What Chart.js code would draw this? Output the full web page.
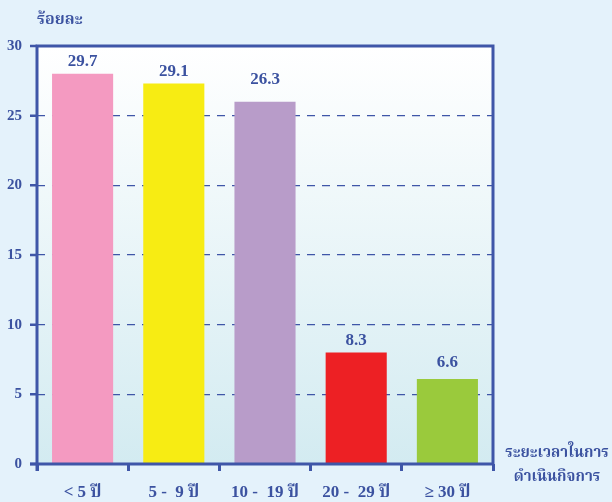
<!DOCTYPE html>
<html>
<head>
<meta charset="utf-8">
<script src="https://cdn.jsdelivr.net/npm/chart.js@4.4.1/dist/chart.umd.min.js"></script>
<style>
  html, body { margin: 0; padding: 0; background: #e4f2fb; }
  #wrap { width: 612px; height: 502px; }
</style>
</head>
<body>
<div id="wrap"><canvas id="c"></canvas></div>
<script>
// ข้อมูลจากภาพ: ความสูงของแท่งตามที่วาด กับตัวเลขที่พิมพ์กำกับ
const categories = ["< 5 ปี", "5 -  9 ปี", "10 -  19 ปี", "20 -  29 ปี", "≥ 30 ปี"]
const barValues = [28.0, 27.3, 26.0, 8.0, 6.1]
const barLabels = ["29.7", "29.1", "26.3", "8.3", "6.6"]
const yTicks = [0, 5, 10, 15, 20, 25, 30]
const yTitle = "ร้อยละ"
const xTitle = ["ระยะเวลาในการ", "ดำเนินกิจการ"]

const barColors = ["#f49ac1", "#f7ec13", "#b89cc9", "#ed2024", "#9aca3c"]
const INK = "#3b52a0"
const FRAME = "#3f56a8"
const FONT = "'Liberation Serif', 'Noto Serif Thai', 'Noto Sans Thai', 'DejaVu Serif', serif"
const labelLift = [12, 12, 22, 12, 16]

const plotBg = {
  id: "plotBg",
  beforeDraw(chart) {
    const { ctx, chartArea: a } = chart
    const g = ctx.createLinearGradient(0, a.top, 0, a.bottom)
    g.addColorStop(0, "#ffffff")
    g.addColorStop(1, "#d3ebf1")
    ctx.save()
    ctx.fillStyle = g
    ctx.fillRect(a.left, a.top, a.right - a.left, a.bottom - a.top)
    ctx.restore()
  }
}

const frameAndText = {
  id: "frameAndText",
  afterDatasetsDraw(chart) {
    const { ctx, chartArea: a } = chart
    const y = chart.scales.y
    ctx.save()
    ctx.setLineDash([])
    // กรอบ
    ctx.strokeStyle = FRAME
    ctx.lineWidth = 3
    ctx.beginPath()
    ctx.moveTo(30, a.bottom)
    ctx.lineTo(a.right, a.bottom)
    ctx.lineTo(a.right, a.top)
    ctx.lineTo(a.left, a.top)
    ctx.lineTo(a.left, a.bottom + 7)
    ctx.stroke()

    // ขีดแกนตั้ง
    ctx.lineWidth = 2.5
    ctx.beginPath()
    yTicks.forEach(v => {
      const py = y.getPixelForValue(v)
      ctx.moveTo(a.left - 7, py)
      ctx.lineTo(a.left, py)
    })
    ctx.stroke()

    // ตัวเลขบนแท่ง
    ctx.fillStyle = INK
    ctx.font = "bold 17px " + FONT
    ctx.textAlign = "center"
    ctx.textBaseline = "middle"
    const meta = chart.getDatasetMeta(0)
    meta.data.forEach((bar, i) => {
      ctx.fillText(barLabels[i], bar.x, bar.y - labelLift[i])
    })

    // ชื่อแกน
    ctx.font = "bold 16px " + FONT
    ctx.textAlign = "left"
    ctx.fillText(yTitle, 37, 20)
    ctx.font = "bold 15px " + FONT
    ctx.textAlign = "center"
    ctx.fillText(xTitle[0], 557, 453)
    ctx.fillText(xTitle[1], 557, 477)
    ctx.restore()
  }
}

new Chart(document.getElementById("c"), {
  type: "bar",
  data: {
    labels: categories,
    datasets: [{
      data: barValues,
      backgroundColor: barColors,
      borderWidth: 0,
      barPercentage: 0.67,
      categoryPercentage: 1.0
    }]
  },
  options: {
    responsive: true,
    maintainAspectRatio: false,
    animation: false,
    layout: { padding: { top: 46, right: 119, left: 0, bottom: 0 } },
    plugins: { legend: { display: false }, tooltip: { enabled: false } },
    scales: {
      x: {
        afterFit(s) { s.height = 38 },
        border: { display: false },
        grid: {
          offset: true,
          drawOnChartArea: false,
          color: FRAME,
          lineWidth: 3,
          tickLength: 7
        },
        ticks: {
          color: INK,
          font: { family: FONT, size: 17, weight: "bold" },
          padding: 11
        }
      },
      y: {
        min: 0,
        max: 30,
        afterFit(s) { s.width = 37 },
        afterBuildTicks(s) { s.ticks = yTicks.map(v => ({ value: v })) },
        border: { display: false, dash: [8, 7] },
        grid: {
          color: (c) => (c.tick.value === 0 || c.tick.value === 30) ? "rgba(0,0,0,0)" : FRAME,
          lineWidth: 1.2,
          drawTicks: false
        },
        ticks: {
          color: INK,
          font: { family: FONT, size: 15, weight: "bold" },
          padding: 15
        }
      }
    }
  },
  plugins: [plotBg, frameAndText]
})
</script>
</body>
</html>
